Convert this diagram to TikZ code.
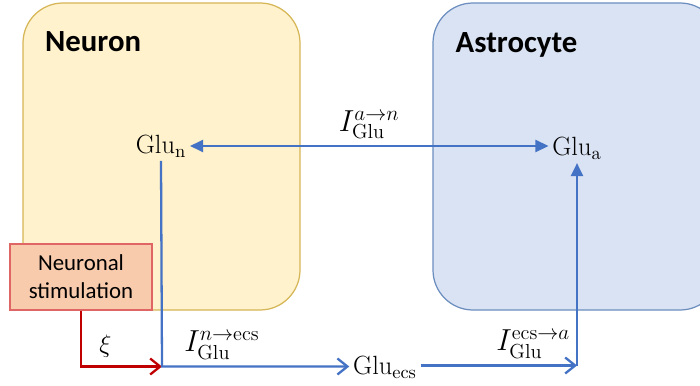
\documentclass[tikz,border=0pt]{standalone}
\usepackage{fontspec}
\setsansfont{Carlito}
\usepackage{tikz}
\usetikzlibrary{arrows.meta,calc}
\definecolor{glucellfill}{HTML}{FFF2CC}
\definecolor{glucellline}{HTML}{D6B656}
\definecolor{gluastrofill}{HTML}{DAE3F3}
\definecolor{gluastroline}{HTML}{6C8EBF}
\definecolor{glublue}{HTML}{4472C4}
\definecolor{glured}{HTML}{C00000}
\definecolor{glustimfill}{HTML}{F8CBAD}
\definecolor{glustimline}{HTML}{E06666}
\newcommand{\glu}[1]{$\mathrm{Glu}_{\mathrm{#1}}$}

\begin{document}
\begin{tikzpicture}[font=\fontsize{15}{17}\selectfont,
  cell/.style={rounded corners=0.8cm, line width=0.7pt},
  title/.style={font=\sffamily\bfseries\fontsize{17.5}{20}\selectfont, anchor=west},
  pool/.style={inner sep=2pt},
  rate/.style={font=\fontsize{16.5}{18}\selectfont, above=0pt},
  flux/.style={draw=glublue, line width=1.3pt},
  fluxtip/.style={flux, -{Triangle[length=2.6mm, width=2.4mm]}},
  fluxbarb/.style={flux, -{Straight Barb[length=2mm, width=3.2mm]}},
  stim/.style={draw=glured, line width=1.3pt, -{Straight Barb[length=2mm, width=3.2mm]}}]
\clip (0,0) rectangle (14,7.7);
% ===== cells =====
\draw[cell, fill=glucellfill, draw=glucellline] (0.46,1.5) rectangle (6.0,7.64);
\draw[cell, fill=gluastrofill, draw=gluastroline] (8.66,1.5) rectangle (14.4,7.64);
\node[title] (neuron) at (0.78,6.86) {Neuron};
\node[title] (astro) at (8.99,6.8) {Astrocyte};
% ===== glutamate pools =====
\node[pool] (glun) at (3.22,4.78) {\glu{n}};
\node[pool] (glua) at (11.54,4.74) {\glu{a}};
\node[pool] (glue) at (7.7,0.36) {\glu{ecs}};
\coordinate (cn) at (3.24,0.37);
\coordinate (ca) at (11.54,0.39);
% ===== stimulus =====
\node[draw=glustimline, fill=glustimfill, line width=0.7pt, align=center,
  minimum width=2.84cm, minimum height=1.32cm, inner sep=2pt,
  font=\sffamily\fontsize{13}{16}\selectfont] (stim) at (1.62,2.16) {Neuronal\\stimulation};
\draw[stim] (stim.south) |- node[pos=0.65, above=1pt] {$\xi$} (cn);
% ===== fluxes =====
\draw[fluxtip, {Triangle[length=2.6mm, width=2.4mm]}-{Triangle[length=2.6mm, width=2.4mm]}] (glun.east) -- node[rate] {$I_{\mathrm{Glu}}^{a\to n}$} (glun.east -| glua.west);
\draw[fluxbarb] (glun.south) -- (cn) -- node[rate, pos=0.32] {$I_{\mathrm{Glu}}^{n\to\mathrm{ecs}}$} (cn -| glue.west);
\draw[fluxbarb] (glue.east |- ca) -- node[rate, pos=0.72] {$I_{\mathrm{Glu}}^{\mathrm{ecs}\to a}$} (ca);
\draw[fluxtip] (ca) -- (glua.south);
\end{tikzpicture}
\end{document}
